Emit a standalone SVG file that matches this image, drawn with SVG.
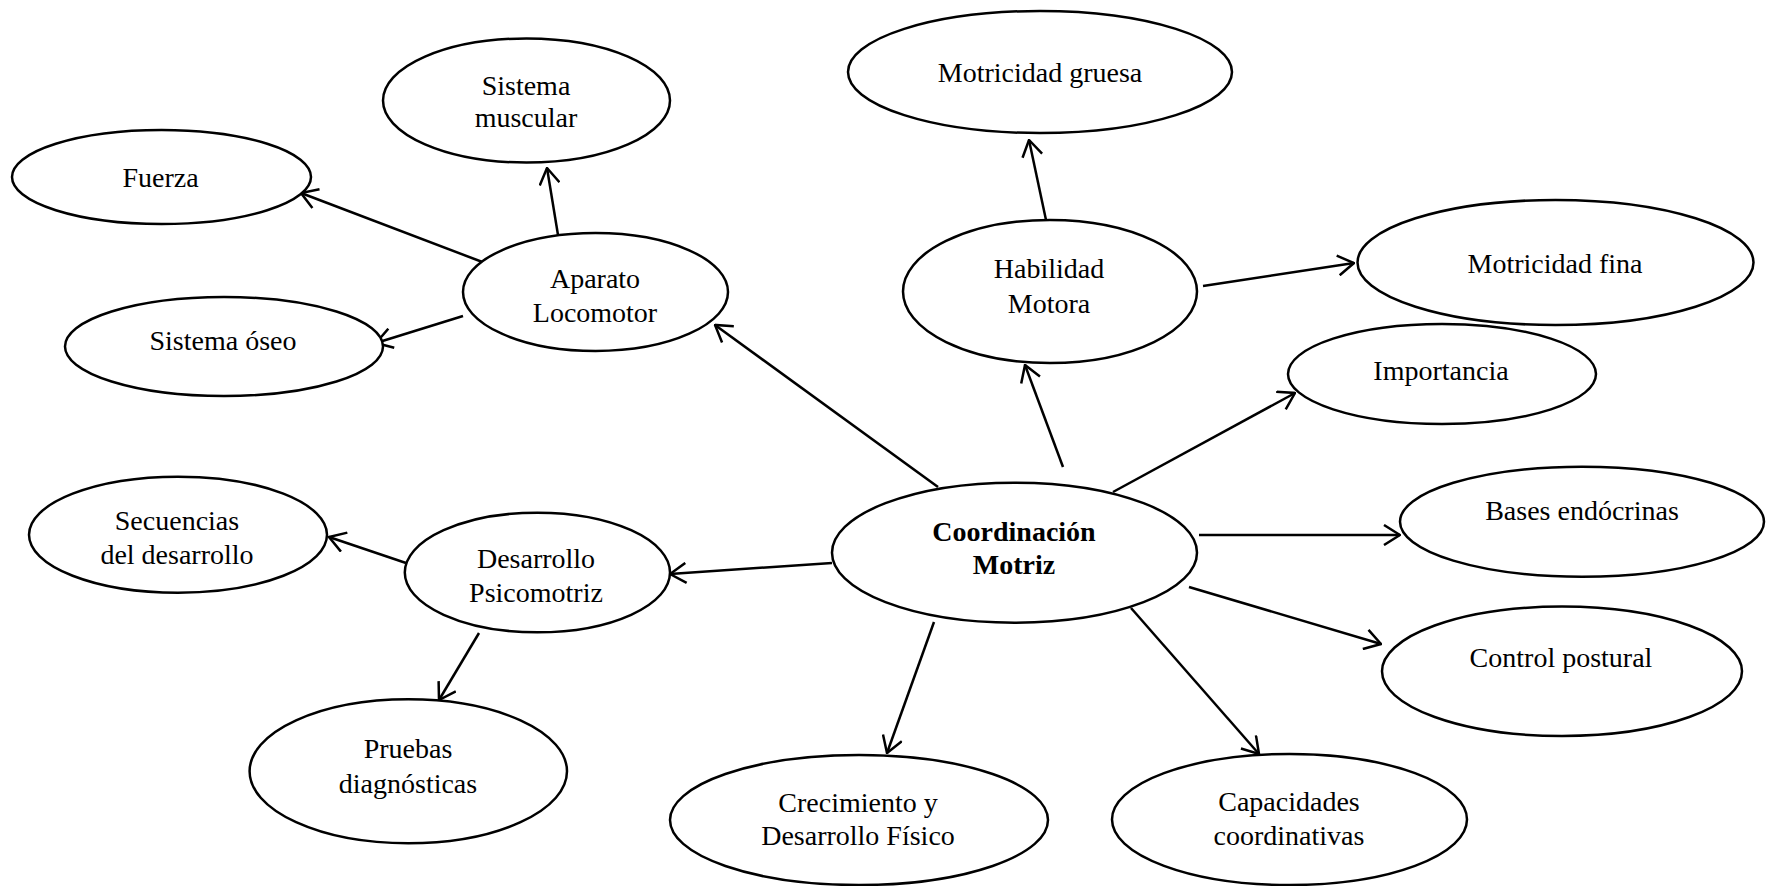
<svg xmlns="http://www.w3.org/2000/svg" width="1768" height="886" viewBox="0 0 1768 886">
<style>
.node ellipse{fill:#fff;stroke:#000;stroke-width:2.5}
.node text{font-family:"Liberation Serif","Times New Roman",serif;font-size:28px;fill:#000;text-anchor:middle}
.node text.b{font-weight:bold}
#connectors line{stroke:#000;stroke-width:2.5;fill:none;marker-end:url(#arr)}
</style>
<defs>
<marker id="arr" markerUnits="userSpaceOnUse" viewBox="0 0 18 22" refX="17" refY="11" markerWidth="18" markerHeight="22" orient="auto">
<path d="M1,1 L17,11 L1,21" fill="none" stroke="#000" stroke-width="2.5"/>
</marker>
</defs>
<rect width="1768" height="886" fill="#fff"/>
<g id="connectors">
<line x1="485" y1="263" x2="301" y2="193"/>
<line x1="558" y1="235" x2="547" y2="168"/>
<line x1="463" y1="316" x2="376" y2="343"/>
<line x1="938" y1="487" x2="715" y2="325"/>
<line x1="1046" y1="220" x2="1029" y2="140"/>
<line x1="1203" y1="286" x2="1354" y2="263"/>
<line x1="1063" y1="467" x2="1025" y2="365"/>
<line x1="1113" y1="492" x2="1295" y2="393"/>
<line x1="832" y1="563" x2="670" y2="574"/>
<line x1="406" y1="563" x2="329" y2="537"/>
<line x1="479" y1="633" x2="439" y2="700"/>
<line x1="1199" y1="535" x2="1400" y2="535"/>
<line x1="1189" y1="587" x2="1381" y2="644"/>
<line x1="934" y1="622" x2="887" y2="753"/>
<line x1="1131" y1="608" x2="1259" y2="754"/>
</g>
<g id="n-sistema-muscular" class="node"><ellipse cx="526.5" cy="100.5" rx="143.5" ry="62"/><text x="526" y="95">Sistema</text><text x="526" y="127">muscular</text></g>
<g id="n-fuerza" class="node"><ellipse cx="161.5" cy="177" rx="149.5" ry="47"/><text x="160.5" y="187">Fuerza</text></g>
<g id="n-sistema-oseo" class="node"><ellipse cx="224" cy="346.5" rx="159" ry="49.5"/><text x="223" y="350">Sistema óseo</text></g>
<g id="n-aparato" class="node"><ellipse cx="595.5" cy="292" rx="132.5" ry="59"/><text x="595" y="288">Aparato</text><text x="595" y="322">Locomotor</text></g>
<g id="n-motricidad-gruesa" class="node"><ellipse cx="1040" cy="72" rx="192" ry="61"/><text x="1040" y="82">Motricidad gruesa</text></g>
<g id="n-habilidad" class="node"><ellipse cx="1050" cy="291.5" rx="147" ry="71.5"/><text x="1049" y="278">Habilidad</text><text x="1049" y="313">Motora</text></g>
<g id="n-motricidad-fina" class="node"><ellipse cx="1555.5" cy="262.5" rx="198" ry="62.5"/><text x="1555" y="273">Motricidad fina</text></g>
<g id="n-importancia" class="node"><ellipse cx="1442" cy="374" rx="154" ry="50"/><text x="1441" y="380">Importancia</text></g>
<g id="n-secuencias" class="node"><ellipse cx="178" cy="534.7" rx="149" ry="58"/><text x="177" y="530">Secuencias</text><text x="177" y="564">del desarrollo</text></g>
<g id="n-desarrollo-psico" class="node"><ellipse cx="537.4" cy="572.5" rx="132.6" ry="59.8"/><text x="536" y="568">Desarrollo</text><text x="536" y="602">Psicomotriz</text></g>
<g id="n-pruebas" class="node"><ellipse cx="408.3" cy="771.3" rx="158.7" ry="72"/><text x="408" y="758">Pruebas</text><text x="408" y="793">diagnósticas</text></g>
<g id="n-coordinacion" class="node"><ellipse cx="1014.5" cy="552.7" rx="182.5" ry="70"/><text class="b" x="1014" y="541">Coordinación</text><text class="b" x="1014" y="574">Motriz</text></g>
<g id="n-bases" class="node"><ellipse cx="1582" cy="521.7" rx="182" ry="55"/><text x="1582" y="520">Bases endócrinas</text></g>
<g id="n-control" class="node"><ellipse cx="1562" cy="671.3" rx="180" ry="64.7"/><text x="1561" y="667">Control postural</text></g>
<g id="n-crecimiento" class="node"><ellipse cx="859" cy="820" rx="189" ry="65"/><text x="858" y="812">Crecimiento y</text><text x="858" y="845">Desarrollo Físico</text></g>
<g id="n-capacidades" class="node"><ellipse cx="1289.5" cy="819.5" rx="177.5" ry="65.5"/><text x="1289" y="811">Capacidades</text><text x="1289" y="845">coordinativas</text></g>
</svg>
